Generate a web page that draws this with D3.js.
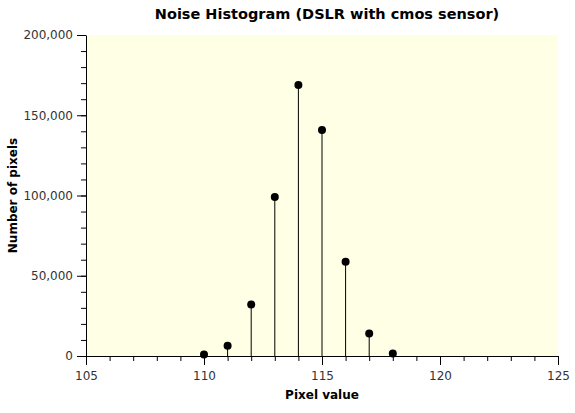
<!DOCTYPE html>
<html>
<head>
<meta charset="utf-8">
<script src="https://cdn.jsdelivr.net/npm/d3@7"></script>
<style>
  body { margin: 0; background: #fff; }
  text { font-family: "DejaVu Sans", sans-serif; }
</style>
</head>
<body>
<div id="chart"></div>
<script>
// Data
var pixelValues = [110, 111, 112, 113, 114, 115, 116, 117, 118];
var pixelCounts = [1000, 6400, 32100, 99000, 168800, 140800, 58700, 14000, 1500];
var xTicks = [105, 110, 115, 120, 125];
var yTicks = [0, 50000, 100000, 150000, 200000];

var svgWidth = 575;
var svgHeight = 413;

var margin = { top: 35, right: 17, bottom: 57, left: 86 };

var width = svgWidth - margin.left - margin.right;
var height = svgHeight - margin.top - margin.bottom;

var svg = d3.select("#chart")
  .append("svg")
  .attr("width", svgWidth)
  .attr("height", svgHeight);

var chartGroup = svg.append("g")
  .attr("transform", `translate(${margin.left}, ${margin.top})`);

var xScale = d3.scaleLinear().domain([105, 125]).range([0, width]);
var yScale = d3.scaleLinear().domain([0, 200000]).range([height, 0]);

// plot background
chartGroup.append("rect")
  .attr("width", width)
  .attr("height", height)
  .attr("fill", "#ffffe6");

// minor ticks
chartGroup.append("g")
  .attr("transform", `translate(0, ${height})`)
  .call(d3.axisBottom(xScale).tickValues(d3.range(105, 126, 1)).tickSize(5).tickFormat(""))
  .call(g => g.select(".domain").remove());

chartGroup.append("g")
  .call(d3.axisLeft(yScale).tickValues(d3.range(0, 200001, 10000)).tickSize(5).tickFormat(""))
  .call(g => g.select(".domain").remove());

// major axes
var bottomAxis = d3.axisBottom(xScale).tickValues(xTicks).tickSize(9).tickSizeOuter(0).tickPadding(6);
var leftAxis = d3.axisLeft(yScale).tickValues(yTicks).tickSize(9).tickSizeOuter(0).tickPadding(4)
  .tickFormat(d3.format(","));

chartGroup.append("g")
  .attr("transform", `translate(0, ${height})`)
  .call(bottomAxis)
  .call(g => g.selectAll("text").attr("font-size", "12px").attr("fill", "#333").attr("font-family", "DejaVu Sans"));

chartGroup.append("g")
  .call(leftAxis)
  .call(g => g.selectAll("text").attr("font-size", "12px").attr("fill", "#333").attr("font-family", "DejaVu Sans"));

chartGroup.selectAll(".tick line").attr("stroke", "#000");
chartGroup.selectAll(".domain").attr("stroke", "#000");

// stems
chartGroup.selectAll(".stem")
  .data(pixelValues)
  .enter()
  .append("line")
  .attr("class", "stem")
  .attr("x1", d => xScale(d))
  .attr("x2", d => xScale(d))
  .attr("y1", yScale(0))
  .attr("y2", (d, i) => yScale(pixelCounts[i]))
  .attr("stroke", "#000")
  .attr("stroke-width", 1);

// dots
chartGroup.selectAll(".dot")
  .data(pixelValues)
  .enter()
  .append("circle")
  .attr("class", "dot")
  .attr("cx", d => xScale(d))
  .attr("cy", (d, i) => yScale(pixelCounts[i]))
  .attr("r", 4)
  .attr("fill", "#000");

// title
svg.append("text")
  .attr("x", 327)
  .attr("y", 19)
  .attr("text-anchor", "middle")
  .attr("font-size", "14.5px")
  .attr("font-weight", "bold")
  .text("Noise Histogram (DSLR with cmos sensor)");

// axis labels
svg.append("text")
  .attr("x", margin.left + width / 2)
  .attr("y", 399)
  .attr("text-anchor", "middle")
  .attr("font-size", "12px")
  .attr("font-weight", "bold")
  .text("Pixel value");

svg.append("text")
  .attr("transform", `translate(17, ${margin.top + height / 2}) rotate(-90)`)
  .attr("text-anchor", "middle")
  .attr("font-size", "12px")
  .attr("font-weight", "bold")
  .text("Number of pixels");
</script>
</body>
</html>
